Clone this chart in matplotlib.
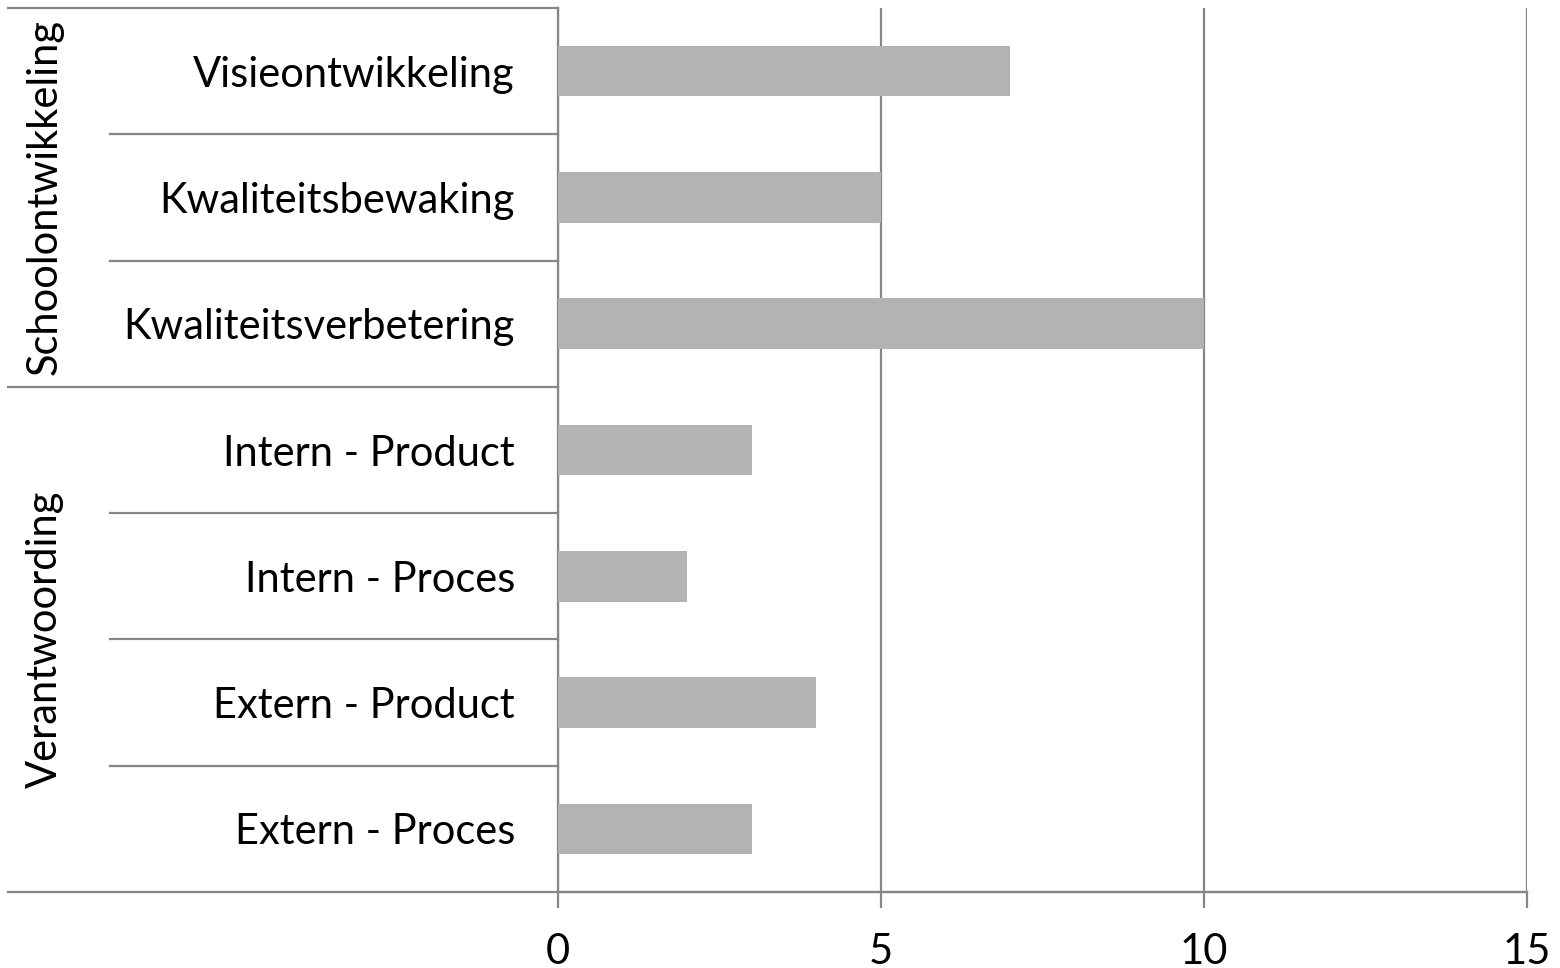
import matplotlib
matplotlib.use("Agg")
import matplotlib.pyplot as plt
import matplotlib.transforms as mtransforms

categories = [
    "Visieontwikkeling",
    "Kwaliteitsbewaking",
    "Kwaliteitsverbetering",
    "Intern - Product",
    "Intern - Proces",
    "Extern - Product",
    "Extern - Proces",
]
values = [7, 5, 10, 3, 2, 4, 3]
groups = ["Schoolontwikkeling", "Verantwoording"]
group_sizes = [3, 4]
x_ticks = [0, 5, 10, 15]

LINE = "#868686"
BAR = "#b3b3b3"
plt.rcParams["font.family"] = ["Lato", "DejaVu Sans"]

fig = plt.figure(figsize=(15.6, 9.68), dpi=100)
ax = fig.add_axes([558 / 1560, 1 - 892 / 968, 969 / 1560, 884 / 968])

ypos = list(range(len(categories)))
ax.barh(ypos, values, height=0.4, color=BAR, zorder=3)
ax.set_ylim(len(categories) - 0.5, -0.5)
ax.set_xlim(0, 15)

ax.set_yticks(ypos)
ax.set_yticklabels(categories, fontsize=30)
ax.tick_params(axis="y", length=0, pad=31)
ax.set_xticks(x_ticks)
ax.set_xticklabels([str(t) for t in x_ticks], fontsize=30)
ax.tick_params(axis="x", length=11.5, width=1.6, color=LINE, pad=18)

ax.grid(axis="x", color=LINE, linewidth=1.6, zorder=1)
for side in ["top", "right"]:
    ax.spines[side].set_visible(False)
for side in ["left", "bottom"]:
    ax.spines[side].set_color(LINE)
    ax.spines[side].set_linewidth(1.6)

trans = mtransforms.blended_transform_factory(ax.transAxes, ax.transData)
x_far = (8 - 558) / 969
x_near = (110 - 558) / 969
x_group = (45 - 558) / 969

# separators between categories and group boundaries
start = 0
bounds = [-0.5]
for g, n in zip(groups, group_sizes):
    for k in range(1, n):
        ax.plot([x_near, 0], [start + k - 0.5] * 2, color=LINE, lw=1.6,
                transform=trans, clip_on=False)
    mid = start + (n - 1) / 2
    ax.text(x_group, mid, g, rotation=90, fontsize=30, ha="center", va="center",
            transform=trans)
    start += n
    bounds.append(start - 0.5)
for b in bounds[:-1]:
    ax.plot([x_far, 0], [b, b], color=LINE, lw=1.6, transform=trans, clip_on=False)
ax.plot([x_far, 1], [bounds[-1]] * 2, color=LINE, lw=1.6, transform=trans,
        clip_on=False)

fig.savefig("out.png", dpi=100)
